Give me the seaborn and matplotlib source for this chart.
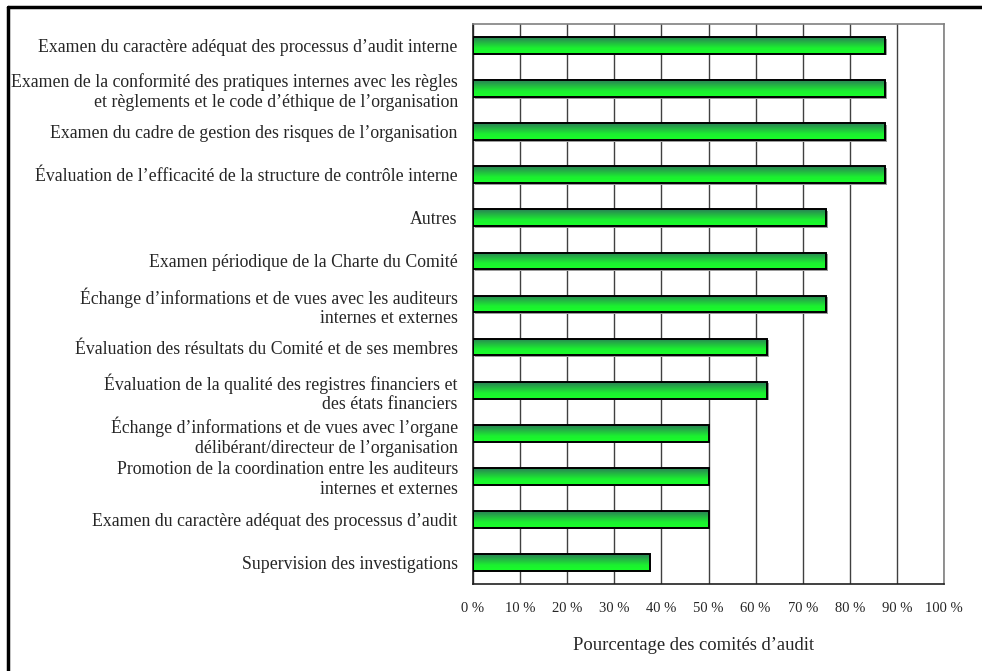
import numpy as np
import pandas as pd
import seaborn as sns
import matplotlib.pyplot as plt
from matplotlib.colors import LinearSegmentedColormap
from matplotlib.lines import Line2D
from matplotlib.patches import Rectangle
from matplotlib.transforms import offset_copy

# Activités du comité d'audit (pourcentage des comités)
activites = [
    "Examen du caractère adéquat des processus d’audit interne",
    "Examen de la conformité des pratiques internes avec les règles\net règlements et le code d’éthique de l’organisation",
    "Examen du cadre de gestion des risques de l’organisation",
    "Évaluation de l’efficacité de la structure de contrôle interne",
    "Autres",
    "Examen périodique de la Charte du Comité",
    "Échange d’informations et de vues avec les auditeurs\ninternes et externes",
    "Évaluation des résultats du Comité et de ses membres",
    "Évaluation de la qualité des registres financiers et\ndes états financiers",
    "Échange d’informations et de vues avec l’organe\ndélibérant/directeur de l’organisation",
    "Promotion de la coordination entre les auditeurs\ninternes et externes",
    "Examen du caractère adéquat des processus d’audit",
    "Supervision des investigations",
]
pourcentages = [87.5, 87.5, 87.5, 87.5, 75, 75, 75, 62.5, 62.5, 50, 50, 50, 37.5]
ticks_x = [0, 10, 20, 30, 40, 50, 60, 70, 80, 90, 100]
tick_labels_x = [f"{t} %" for t in ticks_x]

df = pd.DataFrame({'activite': activites, 'pct': pourcentages})

sns.set_style('white')
plt.rcParams['font.family'] = ['Liberation Serif', 'DejaVu Serif']

fig = plt.figure(figsize=(9.82, 6.71), dpi=100)
ax = fig.add_axes([0.4817, 0.1297, 0.4796, 0.8345])

sns.barplot(data=df, x='pct', y='activite', orient='h', width=0.39,
            color='#1cf72e', edgecolor='black', linewidth=1.4, ax=ax, zorder=3)

ax.set_xlim(0, 100)
ax.set_ylim(12.5, -0.5)

# dégradé vert dans chaque barre + légère ombre
cmap = LinearSegmentedColormap.from_list(
    'vert', [(0, '#2a7f55'), (0.65, '#1cf030'), (1, '#18ff28')])
grad = np.linspace(0, 1, 64).reshape(-1, 1)
shadow_tr = offset_copy(ax.transData, fig=fig, x=1.5, y=-1.5, units='dots')
for patch in list(ax.patches):
    x0, y0 = patch.get_x(), patch.get_y()
    w, h = patch.get_width(), patch.get_height()
    ax.add_patch(Rectangle((x0, y0), w, h, transform=shadow_tr,
                           facecolor='#9a9a9a', edgecolor='none', zorder=2.4))
    img = ax.imshow(grad, cmap=cmap, aspect='auto', origin='upper',
                    extent=(x0, x0 + w, y0 + h, y0), zorder=2.5)
    img.set_clip_path(patch)
    patch.set_facecolor('none')
ax.set_xlim(0, 100)
ax.set_ylim(12.5, -0.5)

# grille verticale
ax.set_xticks(ticks_x)
ax.set_xticklabels(tick_labels_x, fontsize=10.5)
ax.xaxis.grid(True, color='#404040', linewidth=1.0, zorder=0)
ax.set_axisbelow(True)
ax.tick_params(axis='x', direction='out', length=5, width=1, color='#303030', pad=8)

ax.set_yticks(range(len(activites)))
ax.set_yticklabels(activites, fontsize=12.8, multialignment='right', linespacing=1.2)
ax.tick_params(axis='y', which='major', length=0, pad=11)
ax.set_yticks(np.arange(-0.5, 12.5, 1), minor=True)
ax.tick_params(axis='y', which='minor', direction='out', length=4, width=1, color='black')

ax.set_xlabel('Pourcentage des comités d’audit', fontsize=13.4, va='center')
ax.xaxis.set_label_coords((694 - 473) / 471, -0.109)
ax.set_ylabel('')

for side in ['left', 'bottom']:
    ax.spines[side].set_color('#202020')
    ax.spines[side].set_linewidth(1.2)
for side in ['top', 'right']:
    ax.spines[side].set_visible(True)
    ax.spines[side].set_color('#808080')
    ax.spines[side].set_linewidth(1.2)

# cadre de la figure (haut et gauche)
fig.add_artist(Line2D([0.008, 1.0], [0.9895, 0.9895], color='black', linewidth=2.5,
                      transform=fig.transFigure))
fig.add_artist(Line2D([0.008, 0.008], [0.0, 0.9895], color='black', linewidth=2.5,
                      transform=fig.transFigure))

fig.savefig('out.png', dpi=100)
